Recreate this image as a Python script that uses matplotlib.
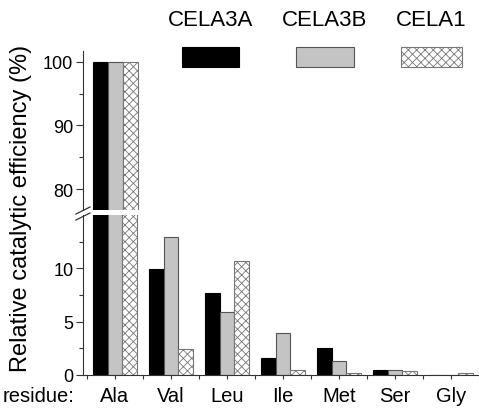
import numpy as np
import matplotlib.pyplot as plt
from matplotlib.patches import Rectangle

plt.rcParams['font.family'] = ['Liberation Sans', 'DejaVu Sans']
plt.rcParams['hatch.linewidth'] = 0.6

residues = ['Ala', 'Val', 'Leu', 'Ile', 'Met', 'Ser', 'Gly']
enzymes = ['CELA3A', 'CELA3B', 'CELA1']
cela3a = [100, 9.9, 7.7, 1.6, 2.55, 0.5, 0.0]
cela3b = [100, 12.9, 5.9, 3.9, 1.3, 0.45, 0.0]
cela1 = [100, 2.4, 10.7, 0.45, 0.2, 0.4, 0.2]

styles = [dict(color='black', edgecolor='black'),
          dict(color='#c4c4c4', edgecolor='#555555'),
          dict(color='white', edgecolor='#777777', hatch='xxxx')]

fig = plt.figure(figsize=(4.79, 4.10), dpi=100)
L, R = 83 / 479, 1.0
ax_top = fig.add_axes([L, 1 - 211 / 410, R - L, (211 - 52) / 410])
ax_bot = fig.add_axes([L, 1 - 376 / 410, R - L, (376 - 216) / 410])

x = np.arange(len(residues))
w = 0.265
for ax in (ax_top, ax_bot):
    for i, vals in enumerate([cela3a, cela3b, cela1]):
        ax.bar(x + (i - 1) * w, vals, w, linewidth=0.8, **styles[i])
    ax.set_xlim(-0.57, 6.42)
    for s in ('top', 'right'):
        ax.spines[s].set_visible(False)
    ax.spines['left'].set_color('#333333')
    ax.tick_params(axis='y', labelsize=13, length=5, width=0.8, color='#333333', pad=2)
    ax.tick_params(axis='y', which='minor', length=3, width=0.8, color='#333333')

ax_top.set_ylim(76.7, 101.7)
ax_top.set_yticks([80, 90, 100])
ax_top.set_yticks([85, 95], minor=True)
ax_top.spines['bottom'].set_visible(False)
ax_top.tick_params(axis='x', which='both', bottom=False, labelbottom=False)

ax_bot.set_ylim(0, 15)
ax_bot.set_yticks([0, 5, 10])
ax_bot.set_yticks([2.5, 7.5, 12.5], minor=True)
ax_bot.spines['bottom'].set_color('#333333')
ax_bot.set_xticks(x)
ax_bot.set_xticklabels(residues, fontsize=14.5)
ax_bot.set_xticks(np.arange(-0.5, 6.6, 1.0), minor=True)
ax_bot.tick_params(axis='x', which='both', length=3, width=0.8, color='#333333', pad=5)

# axis break marks
for dy in (0, 6):
    fig.add_artist(plt.Line2D([76 / 479, 90 / 479],
                              [1 - (218 + dy - 3) / 410, 1 - (211 + dy - 3) / 410],
                              color='#333333', lw=0.9))

fig.text(21 / 479, 1 - 208 / 410, 'Relative catalytic efficiency (%)',
         rotation=90, ha='center', va='center', fontsize=17)
fig.text(3 / 479, 1 - 397 / 410, 'residue:', ha='left', va='center', fontsize=14.5)

# legend
legend_x = [(182, 239), (296, 354), (401, 462)]
for (x0, x1), name, st in zip(legend_x, enzymes, styles):
    fig.text((x0 + x1) / 2 / 479, 1 - 21 / 410, name, ha='center', va='center', fontsize=16)
    fig.add_artist(Rectangle((x0 / 479, 1 - 68 / 410), (x1 - x0) / 479, 20 / 410,
                             transform=fig.transFigure, facecolor=st['color'],
                             edgecolor=st['edgecolor'], hatch=st.get('hatch'), lw=0.8))

fig.savefig('out.png', dpi=100)
